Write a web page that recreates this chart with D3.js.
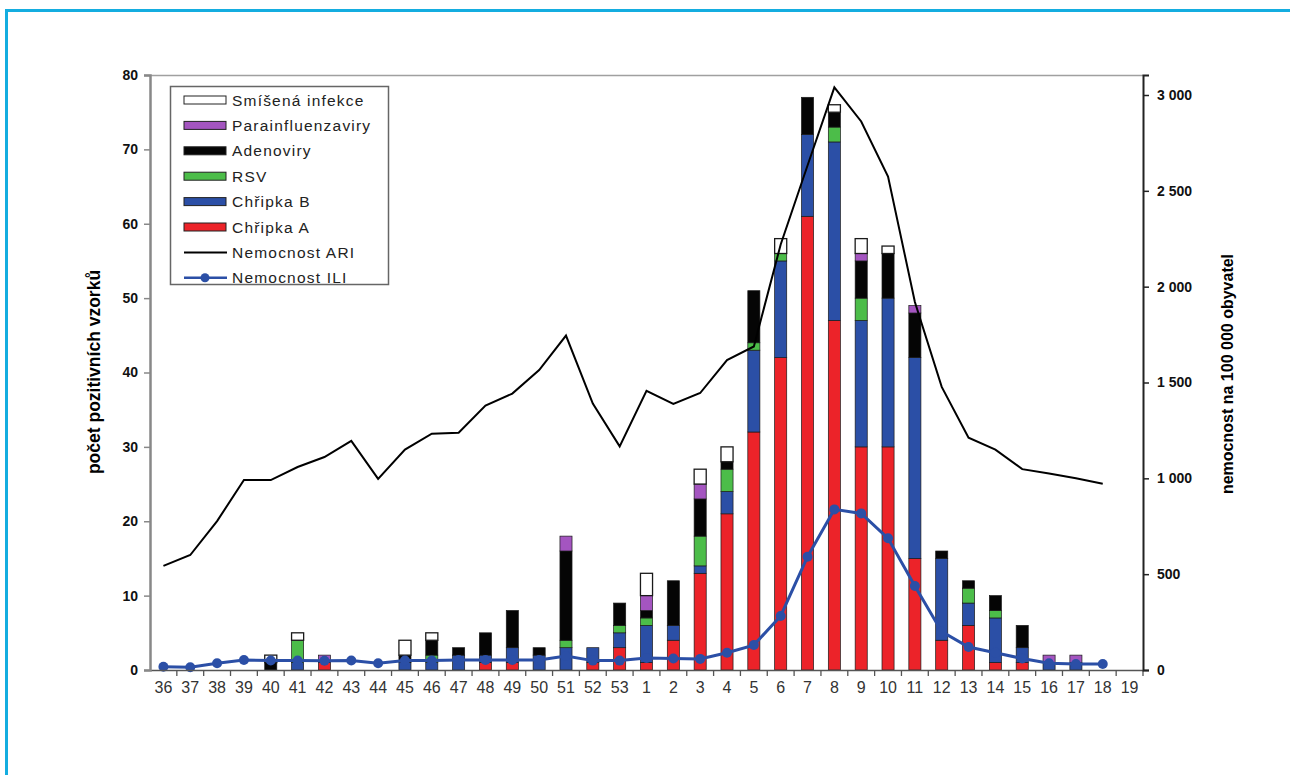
<!DOCTYPE html>
<html>
<head>
<meta charset="utf-8">
<script src="https://cdn.jsdelivr.net/npm/d3@7"></script>
<style>
  body { margin: 0; background: #fff; }
  text { font-family: "Liberation Sans", Arial, sans-serif; }
</style>
</head>
<body>
<svg id="chart" width="1290" height="775"></svg>
<script>
// weeks of the season 36..53, 1..19
var weeks = ['36','37','38','39','40','41','42','43','44','45','46','47','48','49','50','51','52','53',
             '1','2','3','4','5','6','7','8','9','10','11','12','13','14','15','16','17','18','19'];

// positive samples per agent (left axis)
var chripkaA = [0,0,0,0,0,0,1,0,0,0,0,0,1,1,0,0,1,3, 1,4,13,21,32,42,61,47,30,30,15,4,6,1,1,0,0,0,0];
var chripkaB = [0,0,0,0,0,1,0,0,0,1,1,2,1,2,2,3,2,2, 5,2,1,3,11,13,11,24,17,20,27,11,3,6,2,1,1,0,0];
var rsv      = [0,0,0,0,0,3,0,0,0,0,1,0,0,0,0,1,0,1, 1,0,4,3,1,1,0,2,3,0,0,0,2,1,0,0,0,0,0];
var adeno    = [0,0,0,0,1,0,0,0,0,1,2,1,3,5,1,12,0,3, 1,6,5,1,7,0,5,2,5,6,6,1,1,2,3,0,0,0,0];
var para     = [0,0,0,0,0,0,1,0,0,0,0,0,0,0,0,2,0,0, 2,0,2,0,0,0,0,0,1,0,1,0,0,0,0,1,1,0,0];
var smisena  = [0,0,0,0,1,1,0,0,0,2,1,0,0,0,0,0,0,0, 3,0,2,2,0,2,0,1,2,1,0,0,0,0,0,0,0,0,0];

// morbidity per 100 000 (right axis)
var ari = [543,600,777,991,991,1059,1111,1195,997,1150,1233,1238,1380,1442,1565,1745,1390,1167,
           1456,1388,1445,1617,1688,2220,2632,3040,2862,2575,1920,1477,1212,1150,1048,1025,1000,972,null];
var ili = [17,14,35,52,50,50,48,50,35,50,50,52,52,52,52,73,49,49,
           63,60,58,90,130,282,591,838,817,687,438,200,120,90,60,35,31,31,null];

var seriesNames = ['Chřipka A','Chřipka B','RSV','Adenoviry','Parainfluenzaviry','Smíšená infekce'];
var seriesData  = [chripkaA, chripkaB, rsv, adeno, para, smisena];
var seriesColors = ['#ec2329','#2b4fa6','#4cbd49','#050505','#a455c0','#ffffff'];

var svg = d3.select('#chart');

// frame of the figure
svg.append('path')
    .attr('d', 'M6.5,775 V10.5 H1290')
    .attr('fill', 'none')
    .attr('stroke', '#14ade0')
    .attr('stroke-width', 3);

var pLeft = 150, pRight = 1143, pTop = 75, pBottom = 670;

var x = d3.scaleBand().domain(weeks).range([pLeft, pRight]).paddingInner(0.55).paddingOuter(0.275);
var y = d3.scaleLinear().domain([0, 80]).range([pBottom, pTop]);
var y2 = d3.scaleLinear().domain([0, 3000 * (pBottom - pTop) / (pBottom - 95)]).range([pBottom, pTop]);

// stacked table built from the arrays
var table = weeks.map(function(w, i) {
    var row = {week: w};
    seriesNames.forEach(function(n, k) { row[n] = seriesData[k][i]; });
    return row;
});
var stacked = d3.stack().keys(seriesNames)(table);

// top frame line
svg.append('line')
    .attr('x1', pLeft).attr('x2', pRight).attr('y1', pTop + 0.5).attr('y2', pTop + 0.5)
    .attr('stroke', '#a0a0a0').attr('stroke-width', 1.5);

// bars
var barsG = svg.append('g').attr('class', 'bars');
stacked.forEach(function(layer, k) {
    barsG.selectAll('rect.s' + k)
        .data(layer.filter(function(d) { return d[1] - d[0] > 0; }))
        .enter().append('rect')
        .attr('class', 's' + k)
        .attr('x', function(d) { return x(d.data.week); })
        .attr('width', x.bandwidth())
        .attr('y', function(d) { return y(d[1]); })
        .attr('height', function(d) { return y(d[0]) - y(d[1]); })
        .attr('fill', seriesColors[k])
        .attr('stroke', '#1a1a1a')
        .attr('stroke-width', k == 5 ? 1.3 : 0.7);
});

// ARI line
var cx = function(i) { return x(weeks[i]) + x.bandwidth() / 2; };
var lineAri = d3.line()
    .defined(function(d) { return d != null; })
    .x(function(d, i) { return cx(i); })
    .y(function(d) { return y2(d); });
svg.append('path')
    .datum(ari)
    .attr('d', lineAri)
    .attr('fill', 'none')
    .attr('stroke', '#000')
    .attr('stroke-width', 2);

// ILI line
svg.append('path')
    .datum(ili)
    .attr('d', lineAri)
    .attr('fill', 'none')
    .attr('stroke', '#2b4fa6')
    .attr('stroke-width', 3);
svg.append('g').selectAll('circle')
    .data(ili.map(function(d, i) { return {v: d, i: i}; }).filter(function(d) { return d.v != null; }))
    .enter().append('circle')
    .attr('cx', function(d) { return cx(d.i); })
    .attr('cy', function(d) { return y2(d.v); })
    .attr('r', 5)
    .attr('fill', '#2b4fa6');

// axes
var xAxis = svg.append('g')
    .attr('transform', 'translate(0,' + pBottom + ')')
    .call(d3.axisBottom(x).tickSize(0).tickPadding(12));
xAxis.select('.domain').attr('stroke', '#555').attr('stroke-width', 1.5);
xAxis.selectAll('text').attr('font-size', 16).attr('fill', '#333');
// ticks between the categories
xAxis.selectAll('line.sep')
    .data(d3.range(1, weeks.length + 1))
    .enter().append('line')
    .attr('class', 'sep')
    .attr('x1', function(i) { return pLeft + i * x.step(); })
    .attr('x2', function(i) { return pLeft + i * x.step(); })
    .attr('y1', 0).attr('y2', 6)
    .attr('stroke', '#555').attr('stroke-width', 1.3);

var yAxis = svg.append('g')
    .attr('transform', 'translate(' + pLeft + ',0)')
    .call(d3.axisLeft(y).tickValues(d3.range(0, 81, 10)).tickSize(6).tickPadding(6));
yAxis.select('.domain').attr('stroke', '#888').attr('stroke-width', 2.5);
yAxis.selectAll('.tick line').attr('stroke', '#888').attr('stroke-width', 1.5);
yAxis.selectAll('text').attr('font-size', 14).attr('font-weight', 'bold').attr('fill', '#111');

var fmt = function(v) { return d3.format(',')(v).replace(/,/g, ' '); };
var y2Axis = svg.append('g')
    .attr('transform', 'translate(' + pRight + ',0)')
    .call(d3.axisRight(y2).tickValues(d3.range(0, 3001, 500)).tickFormat(fmt).tickSize(6).tickPadding(8));
y2Axis.select('.domain').attr('stroke', '#222').attr('stroke-width', 2);
y2Axis.selectAll('.tick line').attr('stroke', '#222').attr('stroke-width', 1.5);
y2Axis.selectAll('text').attr('font-size', 14).attr('font-weight', 'bold').attr('fill', '#111');

// axis titles
svg.append('text')
    .attr('transform', 'translate(100,372) rotate(-90)')
    .attr('text-anchor', 'middle')
    .attr('font-family', '"Liberation Sans Narrow", "Arial Narrow", "Liberation Sans", sans-serif')
    .attr('font-size', 17.5).attr('font-weight', 'bold')
    .text('počet pozitivních vzorků');
svg.append('text')
    .attr('transform', 'translate(1233,374) rotate(-90)')
    .attr('text-anchor', 'middle')
    .attr('font-family', '"Liberation Sans Narrow", "Arial Narrow", "Liberation Sans", sans-serif')
    .attr('font-size', 16).attr('font-weight', 'bold')
    .text('nemocnost na 100 000 obyvatel');

// legend
var legend = svg.append('g');
legend.append('rect')
    .attr('x', 170.5).attr('y', 86.5).attr('width', 218).attr('height', 198)
    .attr('fill', '#fff').attr('stroke', '#666').attr('stroke-width', 1.5);
var legendItems = [
    {name: 'Smíšená infekce', type: 'bar', color: seriesColors[5]},
    {name: 'Parainfluenzaviry', type: 'bar', color: seriesColors[4]},
    {name: 'Adenoviry', type: 'bar', color: seriesColors[3]},
    {name: 'RSV', type: 'bar', color: seriesColors[2]},
    {name: 'Chřipka B', type: 'bar', color: seriesColors[1]},
    {name: 'Chřipka A', type: 'bar', color: seriesColors[0]},
    {name: 'Nemocnost ARI', type: 'line', color: '#000'},
    {name: 'Nemocnost ILI', type: 'dot', color: '#2b4fa6'}
];
var li = legend.selectAll('g.item').data(legendItems).enter().append('g')
    .attr('class', 'item')
    .attr('transform', function(d, i) { return 'translate(0,' + (100 + i * 25.4) + ')'; });
li.filter(function(d) { return d.type == 'bar'; }).append('rect')
    .attr('x', 184).attr('y', -4).attr('width', 42).attr('height', 8)
    .attr('fill', function(d) { return d.color; })
    .attr('stroke', '#222').attr('stroke-width', 1);
li.filter(function(d) { return d.type != 'bar'; }).append('line')
    .attr('x1', 184).attr('x2', 227).attr('y1', 0).attr('y2', 0)
    .attr('stroke', function(d) { return d.color; })
    .attr('stroke-width', function(d) { return d.type == 'dot' ? 2.5 : 2; });
li.filter(function(d) { return d.type == 'dot'; }).append('circle')
    .attr('cx', 205).attr('cy', 0).attr('r', 4.5).attr('fill', '#2b4fa6');
li.append('text')
    .attr('x', 232).attr('y', 0).attr('dy', '0.36em')
    .attr('font-size', 15.5).attr('letter-spacing', 1.2).attr('fill', '#222')
    .text(function(d) { return d.name; });
</script>
</body>
</html>
